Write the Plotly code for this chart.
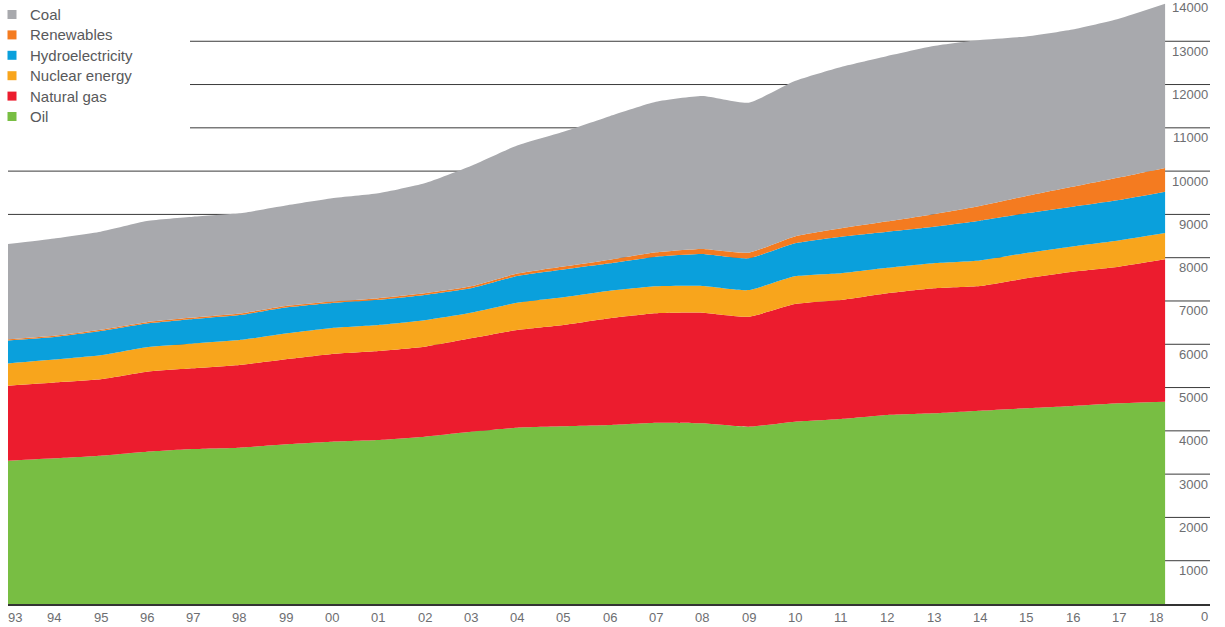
import plotly.graph_objects as go

years = list(range(1993, 2019))
year_labels = ["93", "94", "95", "96", "97", "98", "99", "00", "01", "02", "03", "04", "05",
               "06", "07", "08", "09", "10", "11", "12", "13", "14", "15", "16", "17", "18"]

oil = [3310, 3366, 3426, 3518, 3580, 3611, 3689, 3749, 3788, 3865, 3980, 4073, 4105,
       4135, 4188, 4174, 4096, 4211, 4274, 4366, 4405, 4465, 4521, 4574, 4636, 4673]
natural_gas = [1733, 1751, 1765, 1848, 1865, 1910, 1964, 2026, 2056, 2079, 2158, 2256, 2340,
               2465, 2527, 2555, 2541, 2719, 2748, 2811, 2888, 2881, 3003, 3102, 3156, 3290]
nuclear = [515, 530, 555, 565, 570, 575, 595, 600, 600, 610, 590, 630, 640,
           635, 625, 620, 615, 640, 620, 590, 580, 590, 585, 585, 605, 605]
hydro = [529, 521, 560, 549, 569, 580, 601, 578, 583, 584, 565, 618, 642,
         635, 683, 736, 734, 762, 843, 833, 843, 919, 916, 917, 935, 956]
renewables = [28, 29, 30, 31, 32, 33, 34, 35, 37, 40, 45, 55, 70,
              85, 100, 115, 130, 160, 195, 240, 290, 340, 400, 460, 520, 550]
coal = [2201, 2246, 2264, 2336, 2330, 2316, 2322, 2384, 2423, 2540, 2780, 2959, 3113,
        3315, 3480, 3535, 3464, 3589, 3725, 3819, 3884, 3833, 3684, 3632, 3668, 3791]

y_ticks = list(range(0, 15000, 1000))
legend_names = ["Coal", "Renewables", "Hydroelectricity", "Nuclear energy", "Natural gas", "Oil"]

colors = {
    "Oil": "#78be43",
    "Natural gas": "#ec1c2e",
    "Nuclear energy": "#f8a51c",
    "Hydroelectricity": "#0aa0dc",
    "Renewables": "#f47b20",
    "Coal": "#a8a9ad",
}
series = [("Oil", oil), ("Natural gas", natural_gas), ("Nuclear energy", nuclear),
          ("Hydroelectricity", hydro), ("Renewables", renewables), ("Coal", coal)]

# figure geometry
W, H = 1225, 627
ML, MR, MT, MB = 8, 15, 0, 23
PW, PH = W - ML - MR, H - MT - MB
Y_MAX = 13953
X_RANGE = [1993, 2018.97]

def px_x(px):
    return (px - ML) / PW

def px_y(py):
    return 1 - (py - MT) / PH

FONT = "Liberation Sans, Arial, sans-serif"
TXT = "#6d6e71"

fig = go.Figure()
for name, vals in series:
    fig.add_trace(go.Scatter(
        x=years, y=vals, name=name, stackgroup="one", mode="none",
        fillcolor=colors[name], line=dict(shape="spline", smoothing=0.5, width=0),
        showlegend=False, hoverinfo="x+y+name"))

shapes = []
# gridlines (behind the areas; top ones stop where the legend sits)
legend_right = px_x(190)
for v in y_ticks[1:]:
    shapes.append(dict(type="line", xref="paper", yref="y",
                       x0=0 if v <= 10000 else legend_right, x1=1, y0=v, y1=v,
                       line=dict(color="#3a3a3a", width=1), layer="below"))

annotations = []
# legend: square swatches + labels
leg_y0, leg_dy = 14.5, 20.4
for i, name in enumerate(legend_names):
    cy = leg_y0 + i * leg_dy
    shapes.append(dict(type="rect", xref="paper", yref="paper",
                       x0=px_x(7.5), x1=px_x(16.5), y0=px_y(cy + 4.5), y1=px_y(cy - 4.5),
                       fillcolor=colors[name], line=dict(width=0), layer="above"))
    annotations.append(dict(
        x=px_x(28), xref="paper", y=px_y(cy), yref="paper", xanchor="left",
        yanchor="middle", text=name, showarrow=False,
        font=dict(size=15, color="#58595b", family=FONT)))

# right-hand value labels (sit just under their gridline)
for v in y_ticks:
    annotations.append(dict(
        x=1, xref="paper", y=v / Y_MAX, yref="paper", xanchor="right", yanchor="middle",
        yshift=-10 if v > 0 else -12, text=str(v), showarrow=False,
        font=dict(size=13, color=TXT, family=FONT)))
# year labels
for i, (yr, lab) in enumerate(zip(years, year_labels)):
    shift = 7 if i == 0 else (-9 if i == len(years) - 1 else 0)
    annotations.append(dict(
        x=yr, xref="x", y=0, yref="paper", xanchor="center", yanchor="top",
        yshift=-4, xshift=shift, text=lab, showarrow=False,
        font=dict(size=13, color=TXT, family=FONT)))

fig.update_layout(
    width=W, height=H,
    margin=dict(l=ML, r=MR, t=MT, b=MB),
    paper_bgcolor="white", plot_bgcolor="white",
    xaxis=dict(range=X_RANGE, showgrid=False, showticklabels=False,
               zeroline=False, showline=True, linecolor="#333333", linewidth=1.5,
               ticks=""),
    yaxis=dict(range=[0, Y_MAX], showgrid=False, showticklabels=False,
               zeroline=False, ticks=""),
    shapes=shapes,
    annotations=annotations,
    showlegend=False,
)

fig.write_html("out.html",
               config={"displayModeBar": False},
               post_script="document.body.style.margin='0';document.body.style.overflow='hidden';")
